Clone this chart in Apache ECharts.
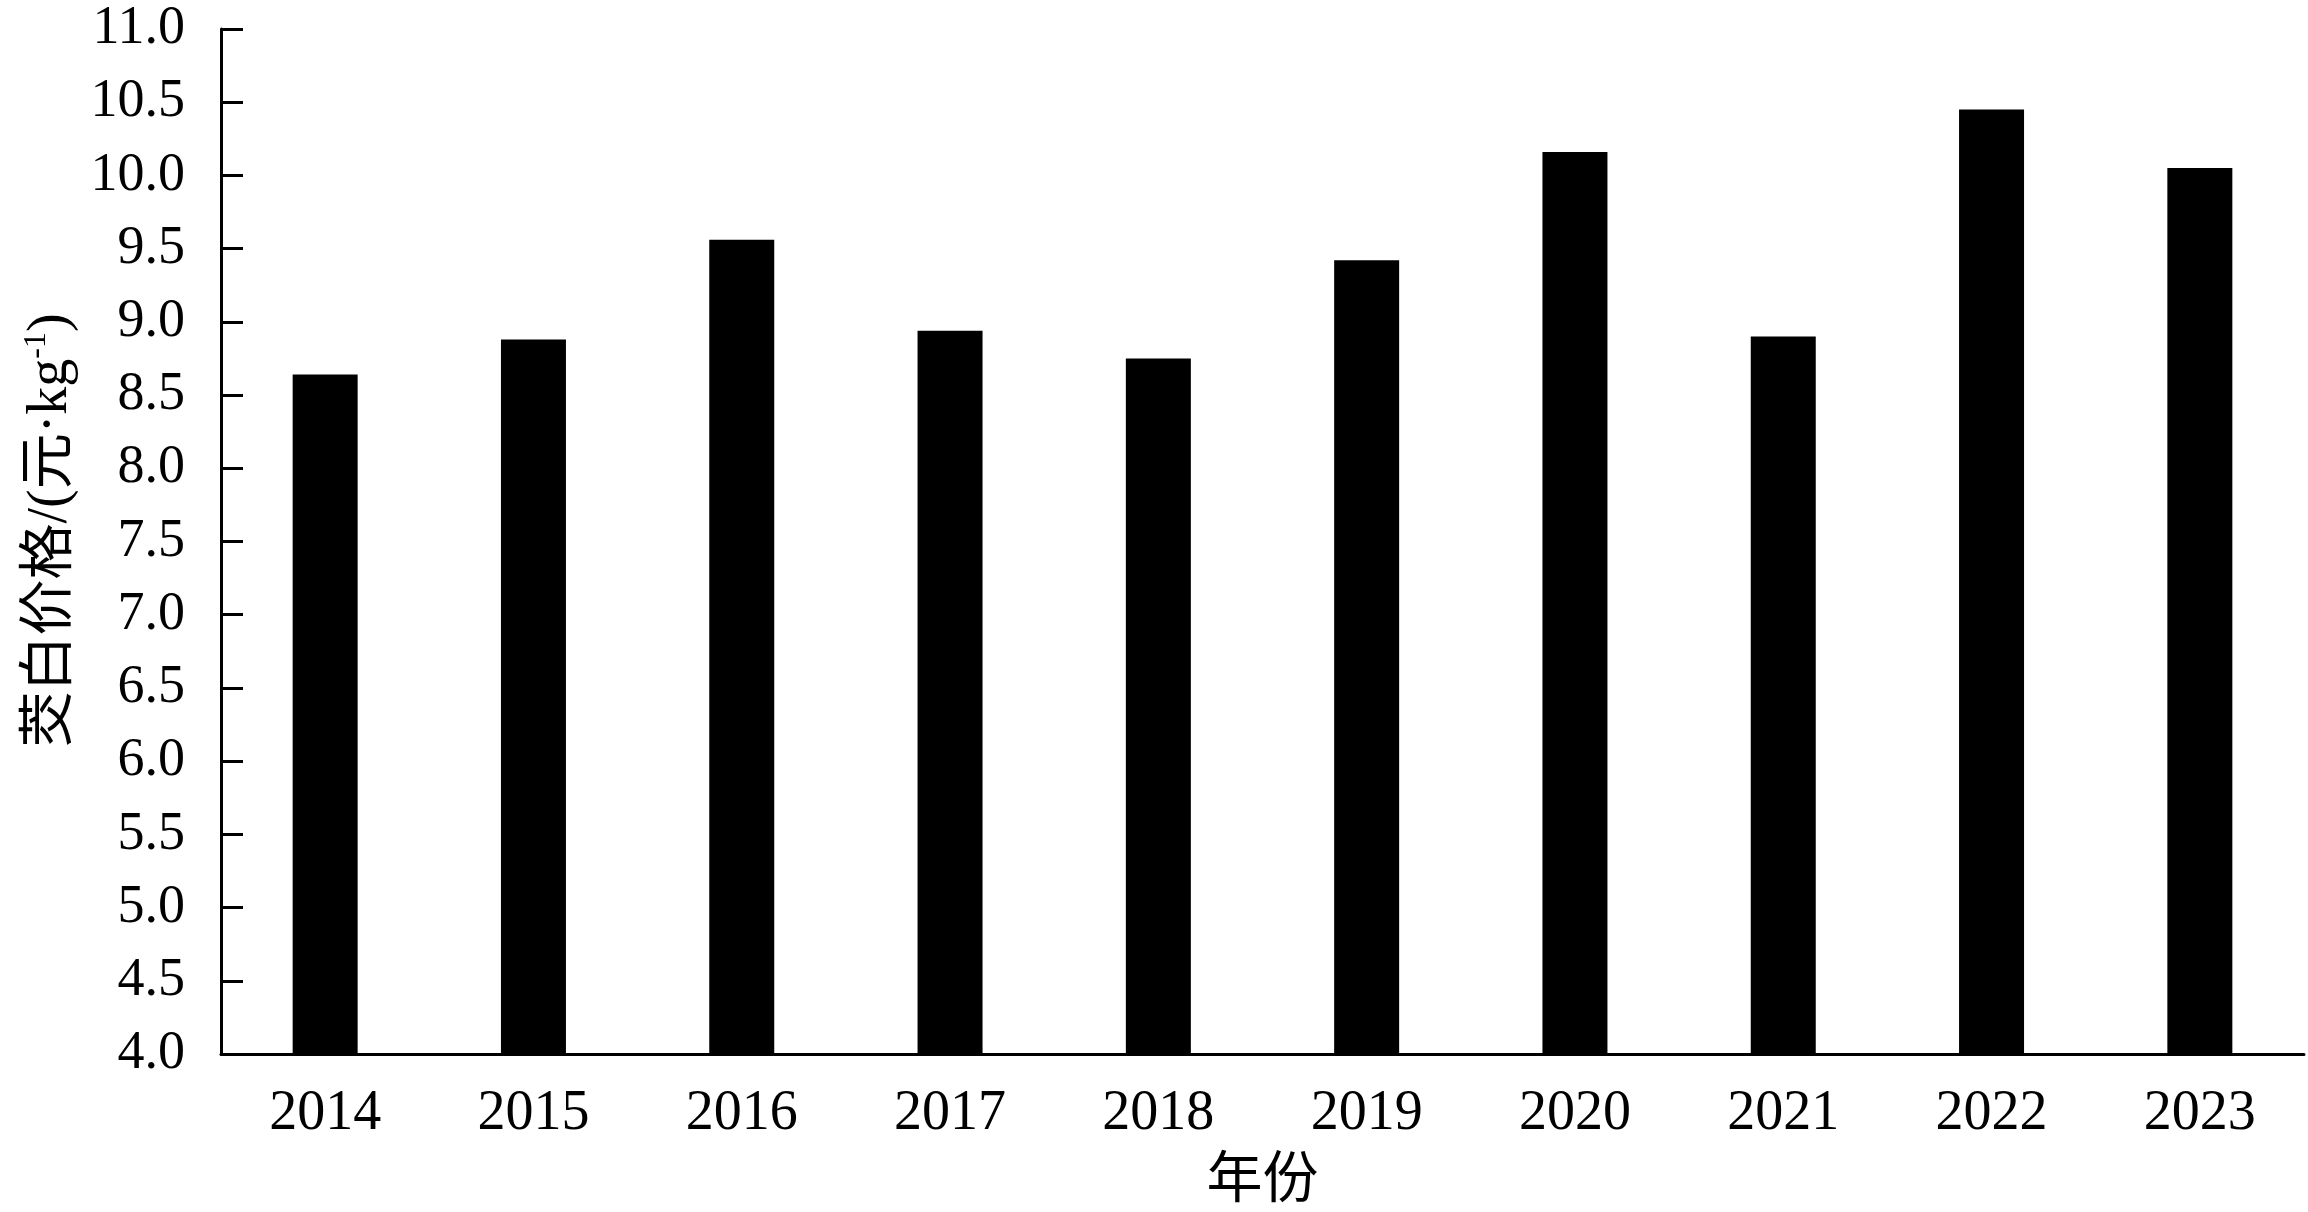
<!DOCTYPE html>
<html>
<head>
<meta charset="utf-8">
<script src="https://cdn.jsdelivr.net/npm/echarts@6/dist/echarts.min.js"></script>
<style>html,body{margin:0;padding:0;background:#fff;}#c{width:2308px;height:1212px;}</style>
</head>
<body>
<div id="c"></div>
<script>
const years = ['2014','2015','2016','2017','2018','2019','2020','2021','2022','2023'];
const prices = [8.64, 8.88, 9.56, 8.94, 8.75, 9.42, 10.16, 8.90, 10.45, 10.05];
const yMin = 4.0, yMax = 11.0, yStep = 0.5;
const xName = '年份';
const yNameMain = '茭白价格/(元·kg';
const yNameSup = '-1';

const FONT = "'Times New Roman','Liberation Serif','Noto Sans CJK SC',serif";
const chart = echarts.init(document.getElementById('c'), null, {renderer: 'canvas'});
chart.setOption({
  animation: false,
  backgroundColor: '#fff',
  grid: {left: 221, right: 4, top: 29, bottom: 158, containLabel: false, outerBoundsMode: 'none'},
  xAxis: {
    type: 'category',
    data: years,
    name: xName,
    nameLocation: 'middle',
    nameGap: 100,
    nameTextStyle: {fontFamily: FONT, fontSize: 56, color: '#000'},
    axisLine: {lineStyle: {color: '#000', width: 3}},
    axisTick: {inside: true, length: 23, lineStyle: {color: '#000', width: 3}},
    axisLabel: {fontFamily: FONT, fontSize: 56, color: '#000', margin: 32}
  },
  yAxis: {
    type: 'value',
    min: yMin, max: yMax, interval: yStep,
    name: '{m|' + yNameMain + '}{s|' + yNameSup + '}{m|)}',
    nameLocation: 'middle',
    nameRotate: 90,
    nameGap: 140,
    nameTextStyle: {
      fontFamily: FONT, fontSize: 56, color: '#000',
      padding: [0, 0, 0, 22],
      rich: {
        m: {fontFamily: FONT, fontSize: 56, color: '#000', lineHeight: 60},
        s: {fontFamily: FONT, fontSize: 32, color: '#000', verticalAlign: 'top', lineHeight: 60, padding: [0, 0, 24, 0]}
      }
    },
    splitLine: {show: false},
    axisLine: {show: true, lineStyle: {color: '#000', width: 3}},
    axisTick: {show: true, inside: true, length: 22, lineStyle: {color: '#000', width: 3}},
    axisLabel: {fontFamily: FONT, fontSize: 54, color: '#000', margin: 36,
      formatter: v => v.toFixed(1)}
  },
  series: [{
    type: 'bar',
    data: prices,
    barWidth: 65,
    itemStyle: {color: '#000'}
  }]
});
</script>
</body>
</html>
